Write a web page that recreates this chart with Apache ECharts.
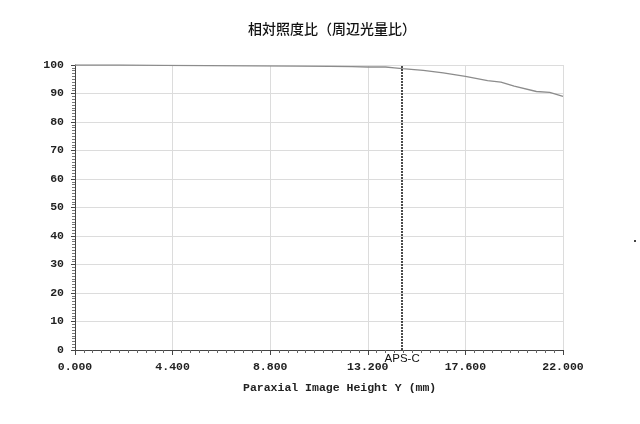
<!DOCTYPE html>
<html>
<head>
<meta charset="utf-8">
<script src="https://cdn.jsdelivr.net/npm/echarts@6/dist/echarts.min.js"></script>
<style>
	html, body { margin: 0; padding: 0; background: #fff; }
	#chart { width: 640px; height: 424px; }
</style>
</head>
<body>
<div id="chart"></div>
<script>
	// 像高 (mm) / 相対照度 (%)
	var imageHeight = [0, 2, 4, 6, 8, 10, 11.5, 12.5, 13.2, 14.0, 14.4, 14.75, 15.7, 16.6, 17.6, 18.6, 19.2, 19.8, 20.8, 21.4, 22];
	var relIllum = [100, 100, 99.9, 99.8, 99.7, 99.6, 99.5, 99.4, 99.3, 99.3, 99.0, 98.7, 98.1, 97.2, 96.0, 94.5, 94.0, 92.6, 90.7, 90.4, 89.0];
	var apsC = 14.75;

	var monoFont = 'Liberation Mono';
	var myChart = echarts.init(document.getElementById('chart'));

	var option = {
		backgroundColor: '#fff',
		animation: false,
		title: {
			text: '相対照度比（周辺光量比）',
			left: 327,
			top: 17,
			textAlign: 'center',
			textStyle: {
				fontFamily: 'Noto Sans CJK JP',
				fontSize: 14,
				fontWeight: 500,
				color: '#111'
			}
		},
		grid: {
			left: 75,
			right: 77,
			top: 65,
			bottom: 74
		},
		xAxis: {
			type: 'value',
			min: 0,
			max: 22,
			interval: 4.4,
			axisLine: { lineStyle: { color: '#444', width: 1 } },
			axisTick: { show: true, length: 5, lineStyle: { color: '#444' } },
			minorTick: { show: true, splitNumber: 11, length: 3, lineStyle: { color: '#666' } },
			splitLine: { show: true, lineStyle: { color: '#dcdcdc', width: 1 } },
			axisLabel: {
				margin: 11,
				fontFamily: monoFont,
				fontWeight: 'bold',
				fontSize: 11.5,
				color: '#222',
				formatter: function (v) { return v.toFixed(3); }
			}
		},
		yAxis: {
			type: 'value',
			min: 0,
			max: 100,
			interval: 10,
			axisLine: { show: true, lineStyle: { color: '#444', width: 1 } },
			axisTick: { show: true, length: 4, lineStyle: { color: '#444' } },
			minorTick: { show: true, splitNumber: 10, length: 3, lineStyle: { color: '#777' } },
			splitLine: { show: true, lineStyle: { color: '#dcdcdc', width: 1 } },
			axisLabel: {
				margin: 11,
				fontFamily: monoFont,
				fontWeight: 'bold',
				fontSize: 11.5,
				color: '#222'
			}
		},
		graphic: [{
			type: 'text',
			left: 243,
			top: 382,
			style: {
				text: 'Paraxial Image Height Y (mm)',
				fontFamily: monoFont,
				fontWeight: 'bold',
				fontSize: 11.5,
				fill: '#222'
			}
		}, {
			type: 'rect',
			left: 634,
			top: 240,
			shape: { width: 2, height: 2 },
			style: { fill: '#444' }
		}],
		series: [{
			type: 'line',
			data: imageHeight.map(function (x, i) { return [x, relIllum[i]]; }),
			showSymbol: false,
			lineStyle: { color: '#8c8c8c', width: 1.3 },
			markLine: {
				silent: true,
				symbol: 'none',
				lineStyle: { color: '#111', type: [2, 1], width: 1.5 },
				label: {
					show: true,
					position: 'start',
					distance: 3,
					formatter: 'APS-C',
					fontFamily: 'Liberation Sans',
					fontSize: 11.5,
					color: '#111'
				},
				data: [{ xAxis: apsC }]
			}
		}]
	};
	myChart.setOption(option);
</script>
</body>
</html>
